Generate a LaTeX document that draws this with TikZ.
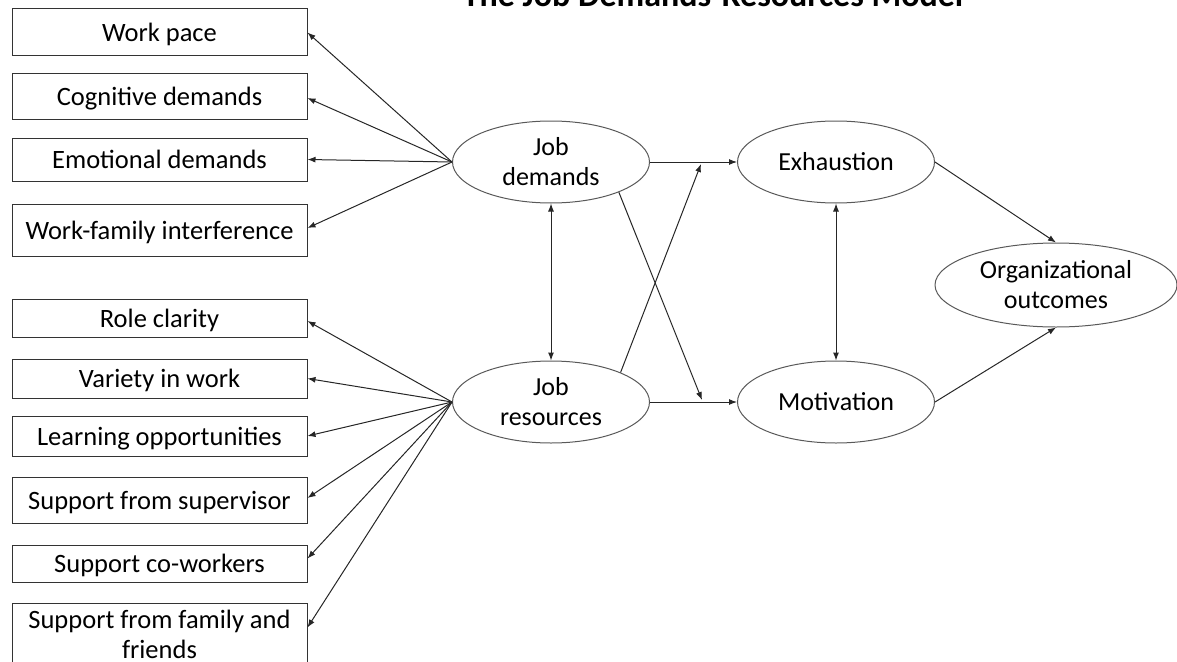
\documentclass[tikz,border=0pt]{standalone}
\usepackage{fontspec}
\setmainfont{Carlito}
\usepackage{tikz}
\usetikzlibrary{arrows.meta}
\usetikzlibrary{shapes.geometric}
\usetikzlibrary{positioning}
\begin{document}
\begin{tikzpicture}[
        x = 1pt, y = -1pt,
        every node/.style={font=\fontsize{26}{30}\selectfont},
        item/.style={draw=black!80,line width=1pt,rectangle,minimum width=295pt,inner sep=0pt,align=center,
          text depth=0pt,font=\fontsize{26.5}{30}\selectfont},
        latent/.style={draw=black!65,line width=1pt,ellipse,minimum width=197pt,minimum height=82pt,inner sep=0pt,align=center},
        link/.style={black!85,line width=1pt,-{Latex[length=8pt,width=6pt]}},
        both/.style={black!85,line width=1pt,{Latex[length=8pt,width=6pt]}-{Latex[length=8pt,width=6pt]}}
        ]
        \useasboundingbox (0,0) rectangle (1177,661);
        \node[font=\bfseries\fontsize{34}{40}\selectfont,anchor=base] (title) at (713,7) {The Job Demands-Resources Model};
        % demands
        \node[item,minimum height=47pt] (pace) at (159.5,32.5) {Work pace};
        \node[item,minimum height=46pt] (cogn) at (159.5,96) {Cognitive demands};
        \node[item,minimum height=43pt] (emot) at (159.5,159.5) {Emotional demands};
        \node[item,minimum height=52pt] (wfam) at (159.5,230) {Work-family interference};
        % resources
        \node[item,minimum height=38pt] (role) at (159.5,318) {Role clarity};
        \node[item,minimum height=39pt] (vari) at (159.5,378.5) {Variety in work};
        \node[item,minimum height=40pt] (lear) at (159.5,436) {Learning opportunities};
        \node[item,minimum height=46pt] (supv) at (159.5,500) {Support from supervisor};
        \node[item,minimum height=37pt] (cowk) at (159.5,563.5) {Support co-workers};
        \node[item,minimum height=62pt] (frnd) at (159.5,634) {Support from family and\\friends};
        % model
        \node[latent] (demands) at (551,162) {Job\\demands};
        \node[latent] (resources) at (551,402) {Job\\resources};
        \node[latent] (exh) at (836,162) {Exhaustion};
        \node[latent] (mot) at (836,402) {Motivation};
        \node[latent,minimum width=242pt,minimum height=84pt] (org) at (1056,285) {Organizational\\outcomes};
        \coordinate (exhin) at (701,164);
        \coordinate (motin) at (702,400);
        \draw[link] (demands.west) -- (pace.east);
        \draw[link] (demands.west) -- ([yshift=-2pt]cogn.east);
        \draw[link] (demands.west) -- (emot.east);
        \draw[link] (demands.west) -- ([yshift=2pt]wfam.east);
        \draw[link] (resources.west) -- ([yshift=-3pt]role.east);
        \draw[link] (resources.west) -- (vari.east);
        \draw[link] (resources.west) -- (lear.east);
        \draw[link] (resources.west) -- ([yshift=2pt]supv.east);
        \draw[link] (resources.west) -- ([yshift=5pt]cowk.east);
        \draw[link] (resources.west) -- ([yshift=-25pt]frnd.north east);
        \draw[both] (demands.south) -- (resources.north);
        \draw[both] (exh.south) -- (mot.north);
        \draw[link] (demands.east) -- (exh.west);
        \draw[link] (resources.east) -- (mot.west);
        \draw[link] (demands.-24) -- (motin);
        \draw[link] (resources.23) -- (exhin);
        \draw[link] (exh.east) -- (org.north);
        \draw[link] (mot.east) -- (org.south);
      \end{tikzpicture}
\end{document}
